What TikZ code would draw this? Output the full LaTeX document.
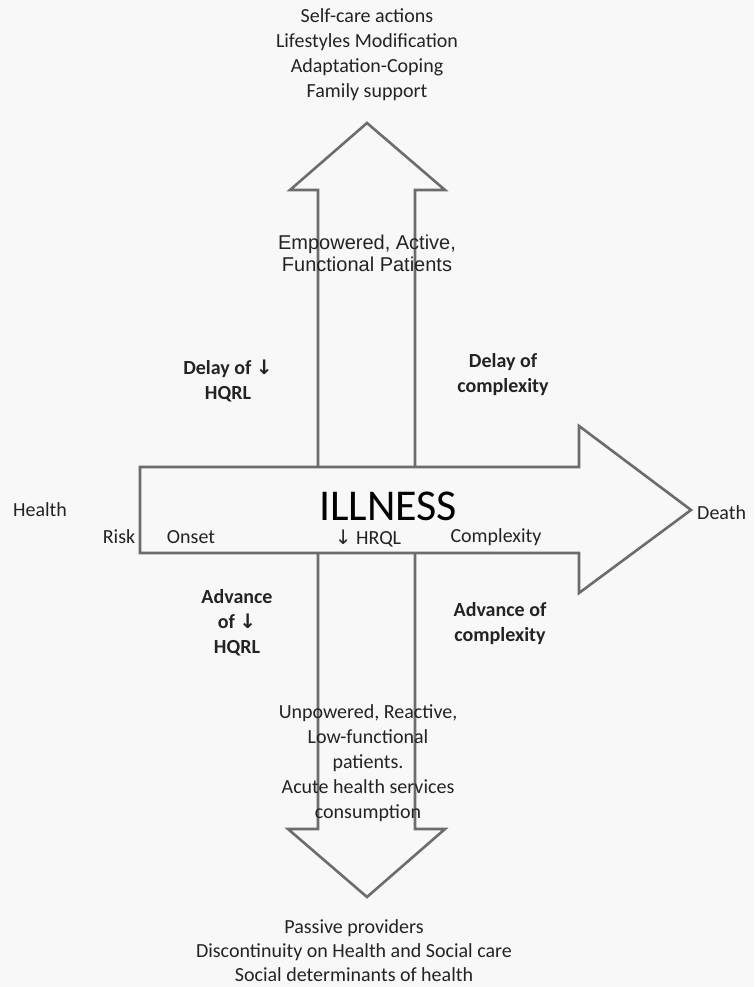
\documentclass[tikz,border=0pt]{standalone}
\usepackage{fontspec}
\setmainfont{Carlito}
\newfontfamily\arialfont{Liberation Sans}
\newfontfamily\symfont{DejaVu Sans}
\usepackage{tikz}

\definecolor{bggray}{RGB}{248,248,248}
\definecolor{linegray}{RGB}{108,108,108}
\definecolor{textgray}{RGB}{35,35,35}
\newcommand{\dnarrow}{{\symfont ↓}}

\tikzset{
  bigarrow/.style={draw=linegray, line width=2.6pt, line join=miter, fill=bggray},
  lbl/.style={font=\fontsize{20}{25}\selectfont, text=textgray, align=center, inner sep=0pt},
  boldlbl/.style={lbl, font=\fontsize{20}{25}\selectfont\bfseries}
}

\begin{document}
\begin{tikzpicture}[x=1pt,y=-1pt]
  \useasboundingbox (0,0) rectangle (755,987);
  \fill[bggray] (0,0) rectangle (755,987);

  % vertical arrow, up and down
  \draw[bigarrow] (367,123) -- (445,190) -- (415,190) -- (415,829) -- (445,829)
     -- (367,897) -- (288,829) -- (318,829) -- (318,190) -- (290,190) -- cycle;
  % horizontal arrow
  \draw[bigarrow] (140,467) -- (579,467) -- (579,426) -- (691,510) -- (579,593)
     -- (579,553) -- (140,553) -- cycle;

  \node[lbl] (selfcare) at (367,55) {Self-care actions\\Lifestyles Modification\\Adaptation-Coping\\Family support};
  \node[lbl, font=\fontsize{20}{22}\selectfont\arialfont] (empowered) at (367,253) {Empowered, Active,\\Functional Patients};

  \node[boldlbl] (delayhqrl) at (228,381) {Delay of \dnarrow\\HQRL};
  \node[boldlbl] (delaycompl) at (503,375) {Delay of\\complexity};

  \node[lbl] (health) at (40,510) {Health};
  \node[lbl] (risk) at (119,537) {Risk};
  \node[lbl] (onset) at (191,537) {Onset};
  \node[lbl, font=\fontsize{44}{48}\selectfont, text=black] (illness) at (388,506) {ILLNESS};
  \node[lbl] (hrql) at (368,539) {\dnarrow\ HRQL};
  \node[lbl] (complexity) at (496,537) {Complexity};
  \node[lbl, anchor=west] (death) at (697,513) {Death};

  \node[boldlbl] (advhqrl) at (237,623) {Advance\\of \dnarrow\\HQRL};
  \node[boldlbl] (advcompl) at (500,624) {Advance of\\complexity};

  \node[lbl] (unpowered) at (368,763) {Unpowered, Reactive,\\Low-functional\\patients.\\Acute health services\\consumption};
  \node[lbl, font=\fontsize{20}{24}\selectfont] (passive) at (354,951) {Passive providers\\Discontinuity on Health and Social care\\Social determinants of health};
\end{tikzpicture}
\end{document}
